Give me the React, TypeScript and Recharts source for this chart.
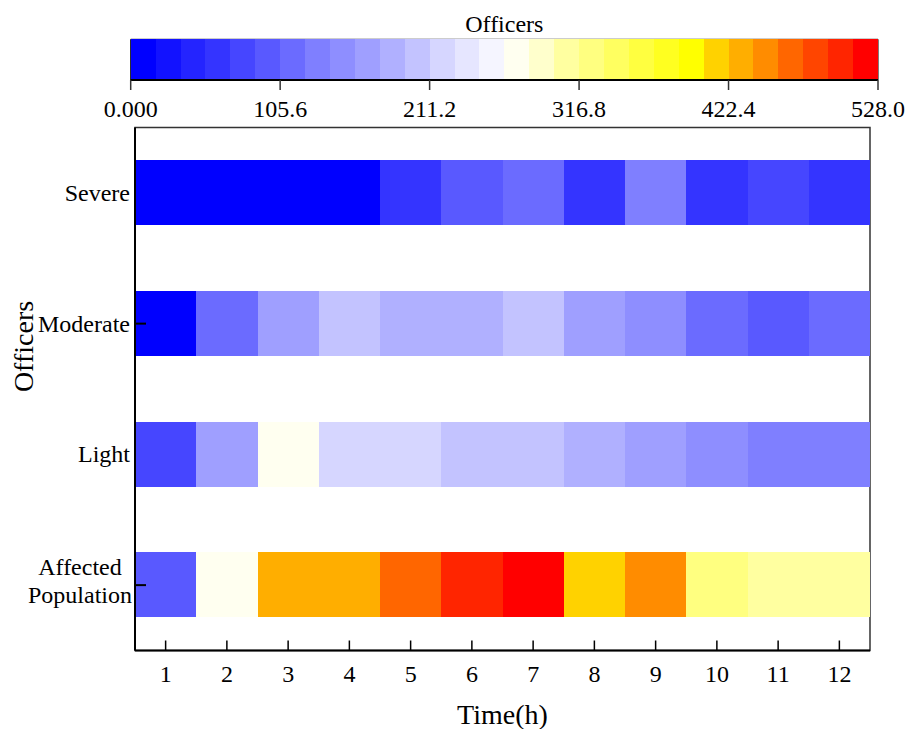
import React from 'react';
import { BarChart, Bar, XAxis, YAxis, Cell, ReferenceArea } from 'recharts';

// rows top -> bottom, one value per hour
const ROWS = ['Severe', 'Moderate', 'Light', 'Affected Population'];
const HOURS = [1, 2, 3, 4, 5, 6, 7, 8, 9, 10, 11, 12];
const SEVERE = [8, 10, 9, 12, 62, 96, 114, 60, 133, 58, 78, 60];
const MODERATE = [10, 115, 167, 203, 185, 186, 202, 166, 150, 114, 97, 116];
const LIGHT = [78, 168, 272, 220, 219, 202, 204, 184, 168, 150, 132, 131];
const AFFECTED = [96, 273, 430, 431, 466, 501, 520, 413, 449, 326, 308, 309];
const VALUES = [SEVERE, MODERATE, LIGHT, AFFECTED];

const VMIN = 0;
const VMAX = 528;
const CB_TICKS = [0, 105.6, 211.2, 316.8, 422.4, 528];

// 30 discrete levels of the colour bar
const COLORS = [
  '#0000ff', '#1212ff', '#2424ff', '#3434ff', '#4646ff', '#5959ff',
  '#6b6bff', '#7f7fff', '#8e8eff', '#9f9fff', '#b0b0ff', '#c3c3ff',
  '#d6d6ff', '#e6e6ff', '#f5f5ff', '#fffff0', '#ffffcc', '#ffffa0',
  '#ffff80', '#ffff60', '#ffff40', '#ffff20', '#ffff00', '#ffd200',
  '#ffae00', '#ff8c00', '#ff6600', '#ff4500', '#ff2500', '#ff0000',
];

const FONT = '"Liberation Serif", "Times New Roman", serif';
const STEP = (VMAX - VMIN) / COLORS.length;

const colorOf = (v: number) => {
  const i = Math.floor((v - VMIN) / STEP);
  return COLORS[Math.max(0, Math.min(COLORS.length - 1, i))];
};

// stacked unit cells starting at 0.5 so cell k spans [k-0.5, k+0.5]
const heatData = ROWS.map((name) => {
  const row: Record<string, string | number> = { name, offset: 0.5 };
  HOURS.forEach((h) => { row[`c${h}`] = 1; });
  return row;
});

const cbData = [
  COLORS.reduce<Record<string, string | number>>((acc, _, i) => {
    acc[`l${i}`] = STEP;
    return acc;
  }, { name: 'cb' }),
];

const HourTick = ({ x, y, payload }: any) => (
  <g>
    <line x1={x} x2={x} y1={y} y2={y - 10} stroke="#000" strokeWidth={1.5} />
    <text x={x} y={y + 31} textAnchor="middle" fontSize={24} fill="#000">
      {payload.value}
    </text>
  </g>
);

const RowTick = ({ x, y, payload, index }: any) => {
  const label: string = payload.value;
  const lines = label.length > 12 ? label.split(' ') : [label];
  return (
    <g>
      {index % 2 === 1 && (
        <line x1={x + 5} x2={x + 16} y1={y} y2={y} stroke="#000" strokeWidth={2} />
      )}
      {lines.length === 1 ? (
        <text x={x} y={y + 8} textAnchor="end" fontSize={24} fill="#000">{label}</text>
      ) : (
        lines.map((l, i) => (
          <text key={i} x={x - 50} y={y - 10 + i * 28} textAnchor="middle" fontSize={24} fill="#000">
            {l}
          </text>
        ))
      )}
    </g>
  );
};

const yTitle = () => (
  <text x={33} y={346.5} transform="rotate(-90 33 346.5)" textAnchor="middle" fontSize={28} fill="#000">
    Officers
  </text>
);

export default function App() {
  return (
    <div style={{ position: 'absolute', left: 0, top: 0, width: 906, height: 729, background: '#fff', fontFamily: FONT }}>
      <div style={{ position: 'absolute', left: 0, top: 0 }}>
        <BarChart
          width={906}
          height={729}
          data={heatData}
          layout="vertical"
          barCategoryGap="25%"
          margin={{ top: 127.5, right: 36, bottom: 0, left: 0 }}
        >
          <Bar dataKey="offset" stackId="a" fill="none" isAnimationActive={false} />
          {HOURS.map((h, hi) => (
            <Bar key={h} dataKey={`c${h}`} stackId="a" isAnimationActive={false}>
              {VALUES.map((vals, ri) => (
                <Cell key={ri} fill={colorOf(vals[hi])} shapeRendering="crispEdges" />
              ))}
            </Bar>
          ))}
          <ReferenceArea x1={0.5} x2={12.5} fill="none" stroke="#333" strokeWidth={1.5} ifOverflow="visible" />
          <XAxis
            type="number"
            domain={[0.5, 12.5]}
            allowDataOverflow
            ticks={HOURS}
            interval={0}
            height={78.5}
            tickSize={0}
            tickMargin={0}
            tickLine={false}
            tick={<HourTick />}
            axisLine={{ stroke: '#000', strokeWidth: 2 }}
            label={{ value: 'Time(h)', position: 'insideBottom', offset: 5, fontSize: 28, fill: '#000' }}
          />
          <YAxis
            type="category"
            dataKey="name"
            width={135}
            interval={0}
            tickSize={0}
            tickMargin={5}
            tickLine={false}
            tick={<RowTick />}
            axisLine={{ stroke: '#000', strokeWidth: 2 }}
            label={yTitle}
          />
        </BarChart>
      </div>

      <div
        style={{
          position: 'absolute', left: 130.7, width: 747.3, top: 10, textAlign: 'center',
          fontSize: 24, lineHeight: '28px', color: '#000',
        }}
      >
        Officers
      </div>

      <div style={{ position: 'absolute', left: 0, top: 0 }}>
        <BarChart
          width={906}
          height={130}
          data={cbData}
          layout="vertical"
          barCategoryGap={0}
          margin={{ top: 39.3, right: 28, bottom: 0, left: 130.7 }}
        >
          {COLORS.map((c, i) => (
            <Bar key={i} dataKey={`l${i}`} stackId="cb" fill={c} shapeRendering="crispEdges" isAnimationActive={false} />
          ))}
          <ReferenceArea x1={VMIN} x2={VMAX} fill="none" stroke="#000" strokeWidth={1} ifOverflow="visible" />
          <XAxis
            type="number"
            domain={[VMIN, VMAX]}
            ticks={CB_TICKS}
            interval={0}
            height={50}
            tickSize={10}
            tickMargin={9.5}
            tickFormatter={(v: number) => v.toPrecision(4)}
            tick={{ fontSize: 24, fill: '#000' }}
            tickLine={{ stroke: '#333', strokeWidth: 1.5 }}
            axisLine={{ stroke: '#000', strokeWidth: 2 }}
          />
          <YAxis type="category" dataKey="name" width={0} tick={false} tickLine={false} axisLine={false} />
        </BarChart>
      </div>
    </div>
  );
}
